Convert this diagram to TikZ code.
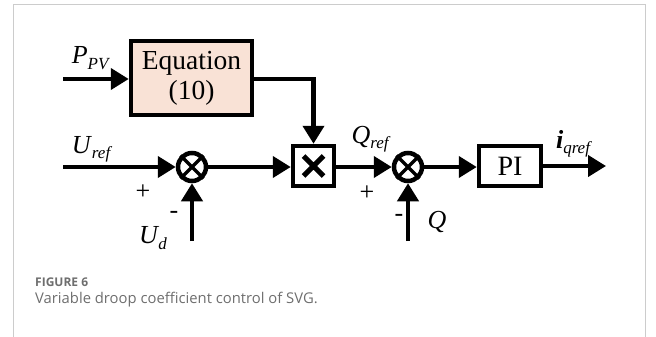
\documentclass[tikz,border=0pt]{standalone}
\usepackage{fontspec}
\setmainfont{Liberation Serif}
\newfontfamily\capfont{Open Sans}
\usetikzlibrary{arrows.meta,calc}
\definecolor{eqfill}{RGB}{249,226,214}
\definecolor{framegray}{RGB}{204,204,204}
\definecolor{capgray}{RGB}{110,110,110}
\newcommand\lbl[2]{\textit{#1}\raisebox{-0.45ex}{\fontsize{17}{17}\selectfont\textit{#2}}}
\tikzset{
  blk/.style={draw,line width=4.5pt,rectangle,inner sep=0pt},
  sumnode/.style={draw,line width=4.5pt,circle,minimum size=28pt,inner sep=0pt},
  sig/.style={line width=4.2pt,-{Triangle[length=18pt,width=21pt]}},
  lab/.style={font=\fontsize{26}{26}\selectfont,inner sep=0pt},
  sgn/.style={font=\fontsize{26}{26}\selectfont,inner sep=0pt},
}
\begin{document}
\begin{tikzpicture}[x=1pt,y=-1pt]
\useasboundingbox (0,0) rectangle (656,337);
\draw[framegray,line width=1pt] (13,337) -- (13,5) -- (645,5) -- (645,337);
% blocks
\node[blk,fill=eqfill,minimum width=121pt,minimum height=74pt,align=center,font=\fontsize{27.5}{30}\selectfont] (eq) at (191.5,78) {Equation\\(10)};
\node[blk,minimum width=41pt,minimum height=40pt] (mult) at (313.5,166) {};
\node[blk,minimum width=62pt,minimum height=40pt,font=\fontsize{28}{28}\selectfont] (pi) at (510,166) {PI};
\node[sumnode] (s1) at (192,167) {};
\node[sumnode] (s2) at (408,167) {};
\draw[line width=3.5pt] (s1.north west) -- (s1.south east) (s1.north east) -- (s1.south west);
\draw[line width=3.5pt] (s2.north west) -- (s2.south east) (s2.north east) -- (s2.south west);
\draw[line width=5pt] ([xshift=-10pt,yshift=-10pt]mult.center) -- ([xshift=10pt,yshift=10pt]mult.center)
  ([xshift=-10pt,yshift=10pt]mult.center) -- ([xshift=10pt,yshift=-10pt]mult.center);
% coordinates
\coordinate (pin) at (63,79);
\coordinate (uin) at (63,167);
\coordinate (udin) at (192,241);
\coordinate (qin) at (408,241);
\coordinate (out) at (606,166);
% connectors
\draw[sig] (pin) -- (eq.west |- pin);
\draw[sig] (eq.east |- pin) -| (mult.north);
\draw[sig] (uin) -- (s1.west);
\draw[sig] (udin) -- (s1.south);
\draw[sig] (s1.east) -- (mult.west |- s1.east);
\draw[sig] (mult.east |- s2.west) -- (s2.west);
\draw[sig] (qin) -- (s2.south);
\draw[sig] (s2.east) -- (pi.west |- s2.east);
\draw[sig] (pi.east) -- (out);
% labels
\node[lab] (lp) at (91,58) {\lbl{P}{PV}};
\node[lab] (lu) at (92,149) {\lbl{U}{ref}};
\node[lab] (lud) at (153,238) {\lbl{U}{\kern-1pt d}};
\node[lab] (lq) at (371,139) {\lbl{Q}{ref}};
\node[lab] (lq2) at (437,222) {\textit{Q}};
\node[lab] (li) at (574,144) {\textbf{\textit{i}}\raisebox{-0.45ex}{\fontsize{17}{17}\selectfont\textit{qref}}};
\node[sgn] (p1) at (143,192) {+};
\node[sgn] (m1) at (174,215) {-};
\node[sgn] (p2) at (367,193) {+};
\node[sgn] (m2) at (399,218) {-};
% caption
\node[anchor=west,inner sep=0pt,text=capgray,font=\capfont\fontsize{12}{12}\selectfont\bfseries] (fig) at (35,282) {FIGURE 6};
\node[anchor=west,inner sep=0pt,text=capgray,font=\capfont\fontsize{14.8}{14.8}\selectfont] (cap) at (35,300) {Variable droop coefficient control of SVG.};
\end{tikzpicture}
\end{document}
